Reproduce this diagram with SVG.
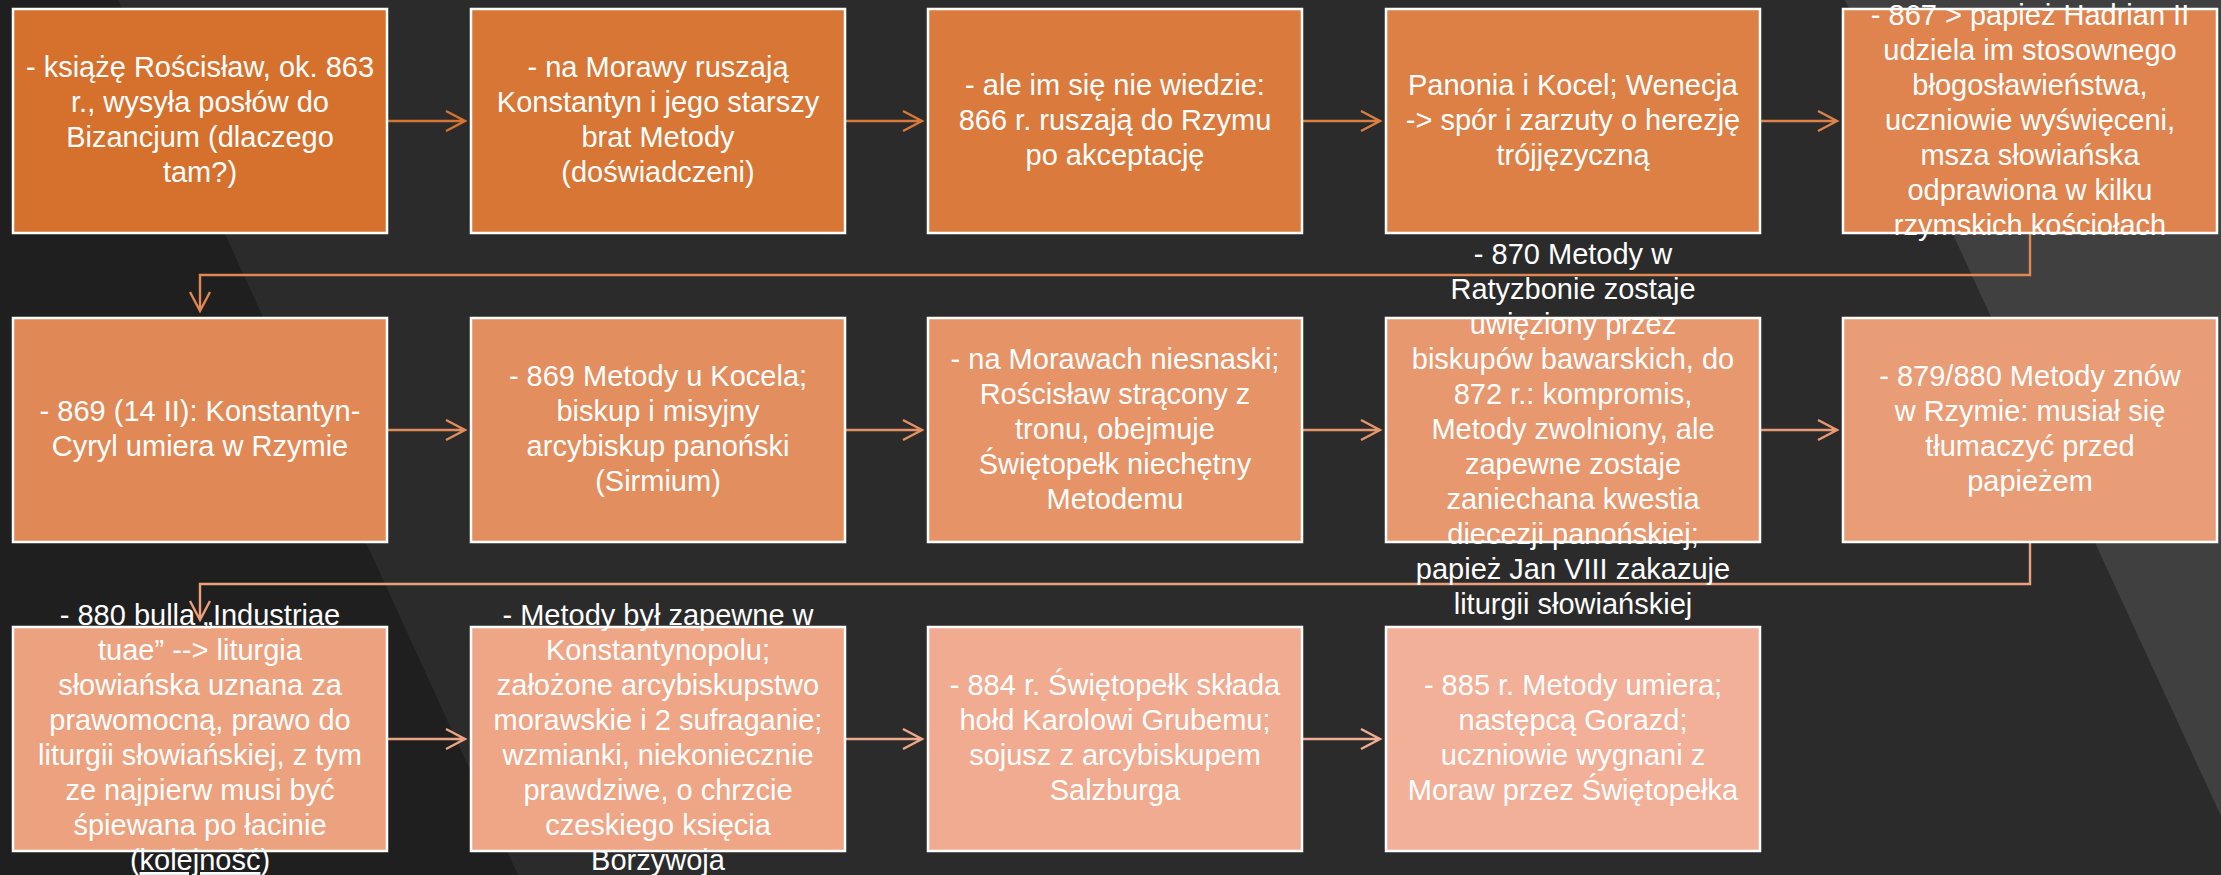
<svg xmlns="http://www.w3.org/2000/svg" width="2221" height="875" viewBox="0 0 2221 875">
<style>
.box{stroke:#FFFFFF;stroke-width:2.5}
.t{font-family:"Liberation Sans",Arial,sans-serif;font-size:29px;fill:#FFFFFF;text-anchor:middle}
.c{fill:none;stroke-width:2.4;stroke-linecap:butt;stroke-linejoin:miter}
</style>
<g id="background">
<rect x="0" y="0" width="2221" height="875" fill="#2B2B2B"/>
<polygon points="0,0 118,0 518,875 0,875" fill="#1F1F1F"/>
<polygon points="1845,0 2221,0 2221,816" fill="#404040"/>
</g>
<g id="connectors">
<path class="c" stroke="#D7742F" d="M387,121 H465 M446,111 L465,121 L446,131"/>
<path class="c" stroke="#D97939" d="M845,121 H922 M903,111 L922,121 L903,131"/>
<path class="c" stroke="#DB7E42" d="M1302,121 H1380 M1361,111 L1380,121 L1361,131"/>
<path class="c" stroke="#DE824A" d="M1760,121 H1837 M1818,111 L1837,121 L1818,131"/>
<path class="c" stroke="#E08752" d="M2030,233 V275 H200 V311 M190,292 L200,311 L210,292"/>
<path class="c" stroke="#E28C5A" d="M387,430 H465 M446,420 L465,430 L446,440"/>
<path class="c" stroke="#E49163" d="M845,430 H922 M903,420 L922,430 L903,440"/>
<path class="c" stroke="#E6966B" d="M1302,430 H1380 M1361,420 L1380,430 L1361,440"/>
<path class="c" stroke="#E89B73" d="M1760,430 H1837 M1818,420 L1837,430 L1818,440"/>
<path class="c" stroke="#EAA07B" d="M2030,542 V584 H200 V620 M190,601 L200,620 L210,601"/>
<path class="c" stroke="#EDA483" d="M387,739 H465 M446,729 L465,739 L446,749"/>
<path class="c" stroke="#EFA98C" d="M845,739 H922 M903,729 L922,739 L903,749"/>
<path class="c" stroke="#F1AE94" d="M1302,739 H1380 M1361,729 L1380,739 L1361,749"/>
</g>
<g id="node-1">
<rect class="box" x="13" y="9" width="374" height="224" fill="#D6712D"/>
<text class="t" y="77"><tspan x="200">- książę Rościsław, ok. 863</tspan><tspan x="200" dy="35">r., wysyła posłów do</tspan><tspan x="200" dy="35">Bizancjum (dlaczego</tspan><tspan x="200" dy="35">tam?)</tspan></text>
</g>
<g id="node-2">
<rect class="box" x="471" y="9" width="374" height="224" fill="#D87635"/>
<text class="t" y="77"><tspan x="658">- na Morawy ruszają</tspan><tspan x="658" dy="35">Konstantyn i jego starszy</tspan><tspan x="658" dy="35">brat Metody</tspan><tspan x="658" dy="35">(doświadczeni)</tspan></text>
</g>
<g id="node-3">
<rect class="box" x="928" y="9" width="374" height="224" fill="#DA7B3D"/>
<text class="t" y="94.5"><tspan x="1115">- ale im się nie wiedzie:</tspan><tspan x="1115" dy="35">866 r. ruszają do Rzymu</tspan><tspan x="1115" dy="35">po akceptację</tspan></text>
</g>
<g id="node-4">
<rect class="box" x="1386" y="9" width="374" height="224" fill="#DC8046"/>
<text class="t" y="94.5"><tspan x="1573">Panonia i Kocel; Wenecja</tspan><tspan x="1573" dy="35">-&gt; spór i zarzuty o herezję</tspan><tspan x="1573" dy="35">trójjęzyczną</tspan></text>
</g>
<g id="node-5">
<rect class="box" x="1843" y="9" width="374" height="224" fill="#DF844E"/>
<text class="t" y="24.5"><tspan x="2030">- 867 &gt; papież Hadrian II</tspan><tspan x="2030" dy="35">udziela im stosownego</tspan><tspan x="2030" dy="35">błogosławieństwa,</tspan><tspan x="2030" dy="35">uczniowie wyświęceni,</tspan><tspan x="2030" dy="35">msza słowiańska</tspan><tspan x="2030" dy="35">odprawiona w kilku</tspan><tspan x="2030" dy="35">rzymskich kościołach</tspan></text>
</g>
<g id="node-6">
<rect class="box" x="13" y="318" width="374" height="224" fill="#E18956"/>
<text class="t" y="421"><tspan x="200">- 869 (14 II): Konstantyn-</tspan><tspan x="200" dy="35">Cyryl umiera w Rzymie</tspan></text>
</g>
<g id="node-7">
<rect class="box" x="471" y="318" width="374" height="224" fill="#E38E5E"/>
<text class="t" y="386"><tspan x="658">- 869 Metody u Kocela;</tspan><tspan x="658" dy="35">biskup i misyjny</tspan><tspan x="658" dy="35">arcybiskup panoński</tspan><tspan x="658" dy="35">(Sirmium)</tspan></text>
</g>
<g id="node-8">
<rect class="box" x="928" y="318" width="374" height="224" fill="#E59367"/>
<text class="t" y="368.5"><tspan x="1115">- na Morawach niesnaski;</tspan><tspan x="1115" dy="35">Rościsław strącony z</tspan><tspan x="1115" dy="35">tronu, obejmuje</tspan><tspan x="1115" dy="35">Świętopełk niechętny</tspan><tspan x="1115" dy="35">Metodemu</tspan></text>
</g>
<g id="node-9">
<rect class="box" x="1386" y="318" width="374" height="224" fill="#E7986F"/>
<text class="t" y="263.5"><tspan x="1573">- 870 Metody w</tspan><tspan x="1573" dy="35">Ratyzbonie zostaje</tspan><tspan x="1573" dy="35">uwięziony przez</tspan><tspan x="1573" dy="35">biskupów bawarskich, do</tspan><tspan x="1573" dy="35">872 r.: kompromis,</tspan><tspan x="1573" dy="35">Metody zwolniony, ale</tspan><tspan x="1573" dy="35">zapewne zostaje</tspan><tspan x="1573" dy="35">zaniechana kwestia</tspan><tspan x="1573" dy="35">diecezji panońskiej;</tspan><tspan x="1573" dy="35">papież Jan VIII zakazuje</tspan><tspan x="1573" dy="35">liturgii słowiańskiej</tspan></text>
</g>
<g id="node-10">
<rect class="box" x="1843" y="318" width="374" height="224" fill="#E99D77"/>
<text class="t" y="386"><tspan x="2030">- 879/880 Metody znów</tspan><tspan x="2030" dy="35">w Rzymie: musiał się</tspan><tspan x="2030" dy="35">tłumaczyć przed</tspan><tspan x="2030" dy="35">papieżem</tspan></text>
</g>
<g id="node-11">
<rect class="box" x="13" y="627" width="374" height="224" fill="#ECA27F"/>
<text class="t" y="625"><tspan x="200">- 880 bulla „Industriae</tspan><tspan x="200" dy="35">tuae” --&gt; liturgia</tspan><tspan x="200" dy="35">słowiańska uznana za</tspan><tspan x="200" dy="35">prawomocną, prawo do</tspan><tspan x="200" dy="35">liturgii słowiańskiej, z tym</tspan><tspan x="200" dy="35">ze najpierw musi być</tspan><tspan x="200" dy="35">śpiewana po łacinie</tspan><tspan x="200" dy="35">(<tspan text-decoration="underline">kolejność</tspan>)</tspan></text>
</g>
<g id="node-12">
<rect class="box" x="471" y="627" width="374" height="224" fill="#EEA687"/>
<text class="t" y="625"><tspan x="658">- Metody był zapewne w</tspan><tspan x="658" dy="35">Konstantynopolu;</tspan><tspan x="658" dy="35">założone arcybiskupstwo</tspan><tspan x="658" dy="35">morawskie i 2 sufraganie;</tspan><tspan x="658" dy="35">wzmianki, niekoniecznie</tspan><tspan x="658" dy="35">prawdziwe, o chrzcie</tspan><tspan x="658" dy="35">czeskiego księcia</tspan><tspan x="658" dy="35">Borzywoja</tspan></text>
</g>
<g id="node-13">
<rect class="box" x="928" y="627" width="374" height="224" fill="#F0AB90"/>
<text class="t" y="695"><tspan x="1115">- 884 r. Świętopełk składa</tspan><tspan x="1115" dy="35">hołd Karolowi Grubemu;</tspan><tspan x="1115" dy="35">sojusz z arcybiskupem</tspan><tspan x="1115" dy="35">Salzburga</tspan></text>
</g>
<g id="node-14">
<rect class="box" x="1386" y="627" width="374" height="224" fill="#F2B098"/>
<text class="t" y="695"><tspan x="1573">- 885 r. Metody umiera;</tspan><tspan x="1573" dy="35">następcą Gorazd;</tspan><tspan x="1573" dy="35">uczniowie wygnani z</tspan><tspan x="1573" dy="35">Moraw przez Świętopełka</tspan></text>
</g>
</svg>
